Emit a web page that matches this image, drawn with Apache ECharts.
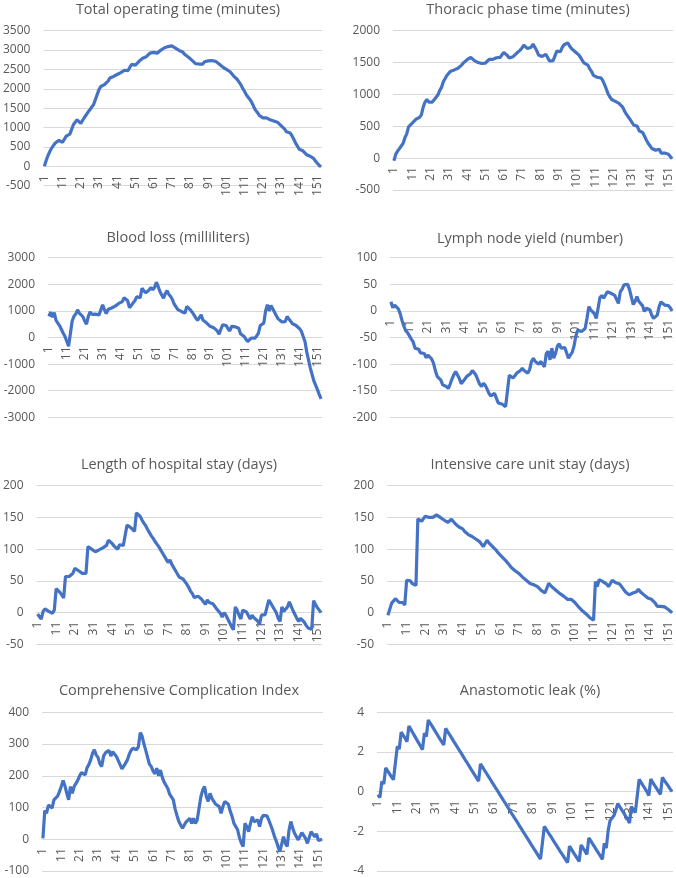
<!DOCTYPE html>
<html><head><meta charset="utf-8">
<script src="https://cdn.jsdelivr.net/npm/echarts@6/dist/echarts.min.js"></script>
<style>html,body{margin:0;padding:0;background:#fff}#c{width:676px;height:878px}</style>
</head><body><div id="c"></div>
<script>
// Case numbers (x axis categories)
const caseCount = 153;
const categories = Array.from({length: caseCount}, (_, i) => String(i + 1));

const titles = [
  'Total operating time (minutes)', 'Thoracic phase time (minutes)',
  'Blood loss (milliliters)', 'Lymph node yield (number)',
  'Length of hospital stay (days)', 'Intensive care unit stay (days)',
  'Comprehensive Complication Index', 'Anastomotic leak (%)'
];

// y-axis tick ranges [min, max, interval]
const yTicks = [
  [-500, 3500, 500], [-500, 2000, 500],
  [-3000, 3000, 1000], [-200, 100, 50],
  [-50, 200, 50], [-50, 200, 50],
  [-100, 400, 100], [-4, 4, 2]
];

const totalOperatingTime = [0,150,280,380,470,540,600,650,670,640,
620,700,780,810,830,850,1080,1130,1200,1170,
1110,1160,1260,1300,1400,1460,1530,1590,1620,1850,
1980,2060,2100,2110,2100,2200,2280,2300,2320,2340,
2370,2390,2420,2460,2480,2460,2470,2560,2630,2620,
2610,2660,2710,2760,2790,2780,2830,2880,2920,2900,
2940,2910,2920,2950,3000,3040,3060,3110,3090,3080,
3110,3090,3050,3010,2990,2970,2950,2890,2860,2820,
2780,2740,2700,2650,2620,2640,2620,2640,2700,2740,
2720,2750,2730,2740,2710,2680,2640,2600,2560,2520,
2500,2480,2440,2390,2330,2290,2240,2190,2100,2010,
1930,1840,1790,1720,1640,1540,1450,1390,1320,1280,
1250,1230,1250,1230,1200,1190,1170,1170,1140,1110,
1050,1020,960,890,900,860,790,700,600,520,
440,410,400,360,300,270,260,240,200,130,
90,20,-10];

const thoracicPhaseTime = [-40,60,110,150,190,230,320,380,490,510,
550,580,610,630,640,680,800,880,920,880,
855,880,915,920,990,1060,1110,1200,1250,1300,
1330,1365,1390,1385,1370,1410,1425,1460,1495,1520,
1545,1570,1580,1600,1530,1510,1500,1495,1485,1485,
1490,1510,1550,1540,1550,1560,1575,1600,1580,1575,
1660,1640,1610,1570,1575,1590,1620,1645,1670,1695,
1730,1775,1745,1720,1700,1740,1790,1740,1690,1620,
1600,1595,1600,1630,1580,1525,1545,1530,1510,1680,
1700,1670,1740,1780,1790,1810,1760,1720,1700,1670,
1640,1620,1580,1530,1490,1480,1460,1400,1360,1300,
1275,1270,1265,1260,1225,1160,1090,1010,960,920,
900,890,870,860,850,800,740,690,650,610,
580,520,490,500,430,415,400,340,280,230,
190,150,135,125,110,140,80,75,80,75,
60,40,-10];

const bloodLoss = [790,950,760,940,640,580,440,300,160,40,
-150,-330,150,620,800,880,1040,920,930,780,
620,500,790,960,870,860,880,860,850,900,
1230,1050,900,1050,1100,1110,1130,1180,1230,1280,
1300,1350,1500,1460,1380,1120,1200,1300,1380,1530,
1510,1500,1850,1760,1680,1720,1790,1880,1800,1880,
2080,1920,1730,1600,1480,1650,1760,1620,1540,1420,
1250,1150,1050,1000,980,950,920,1170,1100,1040,
950,850,740,640,700,850,660,600,550,480,
420,350,370,340,250,120,100,480,460,450,
330,250,420,480,400,360,350,140,100,40,
-60,-150,-90,-20,40,-25,60,160,450,500,
540,1000,1230,1000,1200,1080,950,820,700,630,
590,580,600,790,700,630,520,480,450,410,
330,230,40,-150,-550,-850,-1150,-1400,-1640,-1800,
-1970,-2150,-2310];

const lymphNodeYield = [17,6,11,9,4,-5,-18,-29,-37,-41,
-47,-53,-58,-70,-67,-72,-79,-82,-80,-88,
-83,-86,-90,-98,-112,-123,-126,-130,-139,-140,
-142,-146,-138,-128,-120,-114,-115,-127,-137,-138,
-128,-123,-122,-118,-112,-116,-121,-118,-138,-142,
-136,-140,-147,-155,-160,-161,-155,-164,-173,-171,
-175,-177,-180,-179,-121,-121,-126,-122,-117,-115,
-112,-108,-112,-115,-117,-110,-95,-89,-95,-95,
-100,-95,-98,-105,-80,-76,-92,-70,-89,-80,
-66,-62,-70,-69,-69,-72,-89,-83,-78,-66,
-47,-36,-39,-39,-38,-33,-14,8,2,-1,
-5,-14,5,25,29,24,30,36,34,33,
32,29,27,14,36,41,49,52,50,40,
26,12,18,27,18,14,10,-1,5,5,
2,-8,-14,-13,-8,8,17,14,11,10,
10,6,0];

const hospitalStay = [-2,-6,-10,2,6,4,2,2,-1,4,
38,36,32,28,23,57,57,57,58,62,
70,68,66,64,62,62,62,104,102,100,
98,96,98,99,99,102,102,106,114,112,
109,105,102,100,107,106,106,105,138,136,
134,131,128,157,156,152,146,141,137,131,
126,121,117,112,108,104,99,94,89,84,
79,83,76,71,66,61,56,59,53,50,
45,40,34,30,24,25,26,25,21,17,
13,20,16,15,14,10,6,3,-1,-7,
0,-4,-10,-16,-22,-27,9,4,-4,-10,
4,3,1,-2,-10,-4,-8,-11,-13,-19,
-4,-4,-3,-1,20,15,10,5,0,-9,
-14,9,2,5,9,17,10,3,-3,-9,
-14,-9,-11,-15,-20,-24,-26,-26,19,13,
8,4,0];

const icuStay = [-4,-6,15,12,22,19,16,19,16,12,
51,53,50,46,43,43,148,147,144,145,
152,154,150,147,150,152,154,155,150,148,
146,144,142,145,147,145,140,137,135,133,
132,128,125,123,121,120,118,116,115,112,
108,104,109,114,110,107,104,101,98,94,
91,88,85,82,79,75,71,68,66,64,
62,59,56,53,51,48,46,45,44,43,
41,38,35,33,31,31,46,43,40,37,
35,32,30,28,26,24,21,20,21,19,
16,13,9,6,3,0,-2,-5,-8,-10,
-12,49,41,52,51,49,47,45,41,46,
51,49,47,46,45,41,37,33,30,28,
30,31,30,33,37,33,30,28,25,23,
22,21,18,15,10,8,10,12,9,7,
5,2,0];

const complicationIndex = [3,90,82,108,113,98,124,128,136,150,
166,185,168,145,124,166,145,166,176,186,
200,210,213,203,225,235,250,270,282,266,
258,238,229,262,272,276,280,262,276,280,
261,255,235,222,230,240,250,268,280,287,
292,282,292,336,325,300,280,258,236,229,
215,206,224,200,218,195,180,170,160,142,
145,124,95,75,56,45,35,40,55,61,
66,50,66,50,61,60,134,155,166,134,
119,145,129,134,111,113,103,82,103,119,
124,110,88,72,50,45,30,5,-11,-23,
50,40,24,50,71,55,50,61,40,66,
75,70,74,60,45,29,10,-5,-23,-39,
-34,8,-13,-23,29,56,35,19,21,-2,
-7,21,24,3,-13,-7,24,27,8,17,
-4,2,0];

const anastomoticLeak = [-0.15,-0.3,0.52,0.38,1.2,1.05,0.9,0.75,0.6,1.45,
2.28,2.15,3.0,2.85,2.7,2.52,3.31,3.14,2.97,2.8,
2.63,2.46,2.29,2.12,2.95,2.78,3.61,3.45,3.3,3.14,
2.98,2.82,2.66,2.51,2.35,3.19,3.03,2.88,2.72,2.56,
2.41,2.25,2.09,1.94,1.78,1.62,1.47,1.31,1.15,1.0,
0.84,0.68,0.53,1.4,1.25,1.09,0.94,0.78,0.63,0.47,
0.32,0.16,0.01,-0.15,-0.3,-0.46,-0.61,-0.77,-0.92,-1.08,
-1.23,-1.39,-1.54,-1.7,-1.85,-2.01,-2.16,-2.32,-2.47,-2.63,
-2.78,-2.94,-3.09,-3.25,-3.4,-2.58,-1.75,-1.9,-2.06,-2.21,
-2.36,-2.52,-2.67,-2.82,-2.98,-3.13,-3.28,-3.43,-3.58,-2.75,
-2.9,-3.06,-3.21,-3.36,-3.52,-2.69,-2.85,-3.0,-3.16,-2.33,
-2.48,-2.64,-2.79,-2.95,-3.1,-3.25,-3.41,-2.6,-2.85,-1.95,
-1.45,-1.55,-1.2,-0.92,-0.6,-0.76,-0.92,-1.07,-1.23,-1.38,
-1.58,-0.75,-0.9,-1.06,-0.23,0.62,0.47,0.31,0.16,0.0,
-0.2,0.63,0.47,0.32,0.16,0.01,-0.14,0.72,0.57,0.43,
0.29,0.14,0.0];

const seriesData = [totalOperatingTime, thoracicPhaseTime, bloodLoss, lymphNodeYield,
  hospitalStay, icuStay, complicationIndex, anastomoticLeak];

// Layout (pixels): grid left, top, width, height; title centre x, title top
const layout = [
  {l: 43,  t: 30.7,  w: 279, h: 155,   tx: 178, ty: 2.5},
  {l: 393, t: 30.7,  w: 280, h: 159.3, tx: 528, ty: 2.5},
  {l: 48,  t: 257.7, w: 274, h: 159.6, tx: 178, ty: 230},
  {l: 390, t: 257.7, w: 283, h: 159.6, tx: 530, ty: 231},
  {l: 35,  t: 485.7, w: 287, h: 158.7, tx: 179, ty: 457.5},
  {l: 387, t: 485.7, w: 286, h: 158.7, tx: 530, ty: 457.5},
  {l: 42,  t: 712.3, w: 281, h: 158.7, tx: 179, ty: 683.5},
  {l: 377, t: 712.3, w: 296, h: 158.7, tx: 530, ty: 683.5}
];

const FONT = '"Open Sans", sans-serif';
const TXT = '#595959';
const GRIDC = '#d9d9d9';
const LINEC = '#4472c4';

// distance from the grid bottom up to the value 0, so the category axis sits on zero
function zeroOffset(i) {
  const [mn, mx] = yTicks[i];
  return -layout[i].h * (0 - mn) / (mx - mn);
}

const option = {
  animation: false,
  backgroundColor: '#fff',
  title: layout.map((p, i) => ({
    text: titles[i], left: p.tx, top: p.ty, textAlign: 'center', padding: 0,
    textStyle: {fontFamily: FONT, fontSize: 14.5, fontWeight: 'normal', color: TXT}
  })),
  grid: layout.map(p => ({left: p.l, top: p.t, width: p.w, height: p.h, containLabel: false})),
  xAxis: layout.map((p, i) => ({
    type: 'category', gridIndex: i, data: categories, boundaryGap: true,
    position: 'bottom', offset: zeroOffset(i),
    axisLine: {show: true, onZero: false, lineStyle: {color: GRIDC, width: 1}},
    axisTick: {show: false},
    axisLabel: {interval: 9, rotate: 90, margin: 9, color: TXT, fontFamily: FONT, fontSize: 12},
    splitLine: {show: false}
  })),
  yAxis: layout.map((p, i) => ({
    type: 'value', gridIndex: i, min: yTicks[i][0], max: yTicks[i][1], interval: yTicks[i][2],
    axisLine: {show: false}, axisTick: {show: false},
    axisLabel: {margin: 13, color: TXT, fontFamily: FONT, fontSize: 12, formatter: v => String(v)},
    splitLine: {show: true, lineStyle: {color: GRIDC, width: 1}}
  })),
  series: seriesData.map((d, i) => ({
    type: 'line', xAxisIndex: i, yAxisIndex: i, data: d, showSymbol: false, symbol: 'none',
    lineStyle: {color: LINEC, width: 3.2}, z: 3, silent: true
  }))
};

const chart = echarts.init(document.getElementById('c'), null, {renderer: 'canvas'});
chart.setOption(option);
</script></body></html>
